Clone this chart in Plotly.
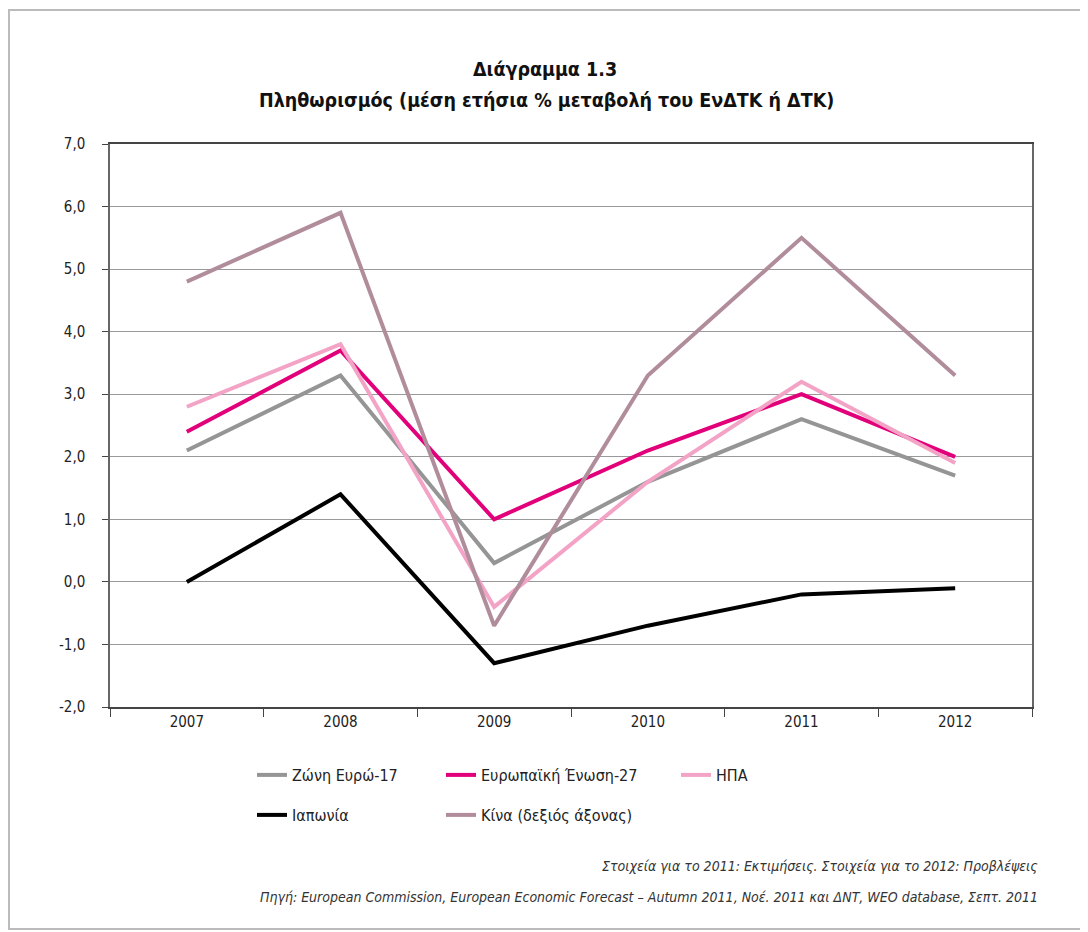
import plotly.graph_objects as go

years = ["2007", "2008", "2009", "2010", "2011", "2012"]
eurozone = [2.1, 3.3, 0.3, 1.6, 2.6, 1.7]
eu27 = [2.4, 3.7, 1.0, 2.1, 3.0, 2.0]
usa = [2.8, 3.8, -0.4, 1.6, 3.2, 1.9]
japan = [0.0, 1.4, -1.3, -0.7, -0.2, -0.1]
china = [4.8, 5.9, -0.7, 3.3, 5.5, 3.3]

y_tickvals = [-2, -1, 0, 1, 2, 3, 4, 5, 6, 7]
y_ticktext = ["-2,0", "-1,0", "0,0", "1,0", "2,0", "3,0", "4,0", "5,0", "6,0", "7,0"]

names = ["Ζώνη Ευρώ-17", "Ευρωπαϊκή Ένωση-27", "ΗΠΑ", "Ιαπωνία", "Κίνα (δεξιός άξονας)"]
colors = ["#959595", "#e2007a", "#f3a3c6", "#000000", "#b18d9c"]
series = [eurozone, eu27, usa, japan, china]
legend_ids = ["legend", "legend2", "legend3", "legend4", "legend5"]

OFF = 8  # page body margin offset
# legend positions in screen pixels (left x, top y)
legend_px = [(252, 758), (441, 758), (676, 758), (252, 798), (441, 798)]

FONT = "DejaVu Sans Condensed, Liberation Sans Narrow, Roboto, sans-serif"
PW, PH = 922, 563
L, T = 110 - OFF, 144 - OFF


def px_x(x):
    return (x - OFF - L) / PW


def px_y(y):
    return (T + PH - (y - OFF)) / PH


fig = go.Figure()
for nm, vals, col, lg in zip(names, series, colors, legend_ids):
    fig.add_trace(go.Scatter(x=years, y=vals, name=nm, mode="lines",
                             line=dict(color=col, width=4), legend=lg,
                             showlegend=True))

legends = {}
for lg, (lx, ly) in zip(legend_ids, legend_px):
    legends[lg] = dict(x=px_x(lx), y=px_y(ly), xanchor="left", yanchor="top",
                       orientation="v", bgcolor="rgba(0,0,0,0)", itemwidth=30,
                       visible=True,
                       font=dict(family=FONT, size=16, color="#222"))

fig.update_layout(
    width=1088, height=932,
    showlegend=True,
    paper_bgcolor="white", plot_bgcolor="white",
    margin=dict(l=L, r=1088 - L - PW, t=T, b=932 - T - PH),
    font=dict(family=FONT, color="#222"),
    xaxis=dict(type="category", range=[-0.5, 5.5], tickson="boundaries",
               ticks="outside", ticklen=8, tickcolor="#444", showline=True,
               linecolor="#444", linewidth=1.5, mirror=True, showgrid=False,
               tickfont=dict(family=FONT, size=15, color="#222")),
    yaxis=dict(range=[-2, 7], tickvals=y_tickvals, ticktext=y_ticktext,
               ticks="outside", ticklen=6, tickcolor="#444", showline=True,
               linecolor="#666", linewidth=1.5, mirror=True, showgrid=True,
               gridcolor="#999", gridwidth=1, zeroline=False,
               ticklabelstandoff=14,
               tickfont=dict(family=FONT, size=15, color="#222")),
    shapes=[dict(type="rect", xref="paper", yref="paper",
                 x0=px_x(9), x1=px_x(1082), y0=px_y(929), y1=px_y(10),
                 line=dict(color="#bbbbbb", width=2), fillcolor="rgba(0,0,0,0)")],
    annotations=[
        dict(text="<b>Διάγραμμα 1.3</b>", xref="paper", yref="paper",
             x=px_x(545), y=px_y(70), xanchor="center", yanchor="middle",
             showarrow=False, font=dict(family=FONT, size=19.5, color="#111")),
        dict(text="<b>Πληθωρισμός (μέση ετήσια % μεταβολή του ΕνΔΤΚ ή ΔΤΚ)</b>",
             xref="paper", yref="paper",
             x=px_x(546), y=px_y(100), xanchor="center", yanchor="middle",
             showarrow=False, font=dict(family=FONT, size=19.5, color="#111")),
        dict(text="<i>Στοιχεία για το 2011: Εκτιμήσεις. Στοιχεία για το 2012: Προβλέψεις</i>",
             xref="paper", yref="paper", x=px_x(1040), y=px_y(866),
             xanchor="right", yanchor="middle", showarrow=False,
             font=dict(family=FONT, size=14, color="#333")),
        dict(text="<i>Πηγή: European Commission, European Economic Forecast – Autumn 2011, Noέ. 2011 και ΔΝΤ, WEO database, Σεπτ. 2011</i>",
             xref="paper", yref="paper", x=px_x(1040), y=px_y(897),
             xanchor="right", yanchor="middle", showarrow=False,
             font=dict(family=FONT, size=14, color="#333")),
    ],
    **legends,
)

fig.write_html("out.html")
